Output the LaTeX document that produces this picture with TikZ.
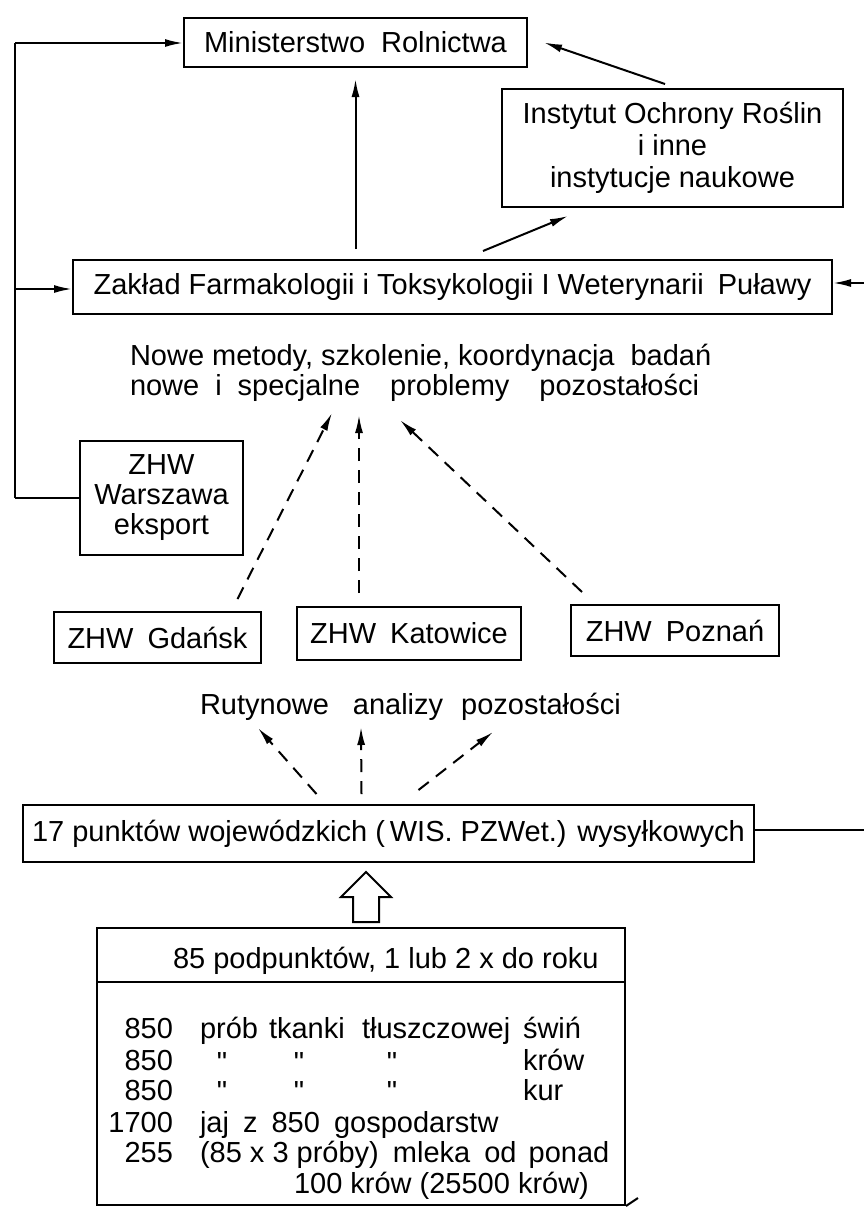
\documentclass[tikz,border=0pt]{standalone}
\usepackage{fontspec}
\setmainfont{Liberation Sans}
\newfontfamily\ditfont[Ligatures=TeXOff]{Liberation Sans}
\usetikzlibrary{arrows.meta,calc}
\begin{document}
\begin{tikzpicture}[x=1pt,y=-1pt,line width=2pt,
  every node/.style={font=\fontsize{29}{32}\selectfont},
  box/.style={draw,rectangle,inner sep=0pt,align=center},
  lbl/.style={inner sep=0pt,anchor=base west},
  num/.style={inner sep=0pt,anchor=base east},
  dit/.style={inner sep=0pt,anchor=base,font=\ditfont\fontsize{29}{32}\selectfont},
  arr/.style={-{Latex[length=18pt,width=8pt]}},
  darr/.style={arr,dash pattern=on 13pt off 9pt}]
\fill[white] (0,0) rectangle (864,1210);
\useasboundingbox (0,0) rectangle (864,1210);

% boxes
\node[box,minimum width=343pt,minimum height=49pt] (min) at (355.5,42.5) {Ministerstwo\hspace{16pt}Rolnictwa};
\node[box,minimum width=341pt,minimum height=118pt] (ior) at (672.5,148) {Instytut Ochrony Roślin\\i inne\\instytucje\hspace{8pt}naukowe};
\node[box,minimum width=759pt,minimum height=54pt] (zak) at (452.5,287) {Zakład Farmakologii i Toksykologii I Weterynarii\hspace{14pt}Puławy};
\node[lbl] (nowe1) at (129,365) {Nowe metody, szkolenie, koordynacja\hspace{16pt}badań};
\node[lbl] (nowe2) at (129,395) {nowe\hspace{16pt}i\hspace{16pt}specjalne\hspace{30pt}problemy\hspace{30pt}pozostałości};
\node[box,minimum width=163pt,minimum height=114pt,font=\fontsize{29}{30}\selectfont] (war) at (161.5,498) {ZHW\\Warszawa\\eksport};
\node[box,minimum width=207pt,minimum height=51pt] (gda) at (157.5,637.5) {ZHW\hspace{14pt}Gdańsk};
\node[box,minimum width=224pt,minimum height=53pt] (kat) at (409,633.5) {ZHW\hspace{14pt}Katowice};
\node[box,minimum width=208pt,minimum height=51pt] (poz) at (675,630.5) {ZHW\hspace{14pt}Poznań};
\node[lbl] (rut) at (199,714) {Rutynowe\hspace{24pt}analizy\hspace{18pt}pozostałości};
\node[box,minimum width=731pt,minimum height=57pt] (p17) at (388.5,833.5) {17 punktów wojewódzkich (\,WIS. PZWet.) wysyłkowych};

% bottom box
\node[draw,rectangle,minimum width=528pt,minimum height=277pt,inner sep=0pt] (bb) at (361,1066.5) {};
\draw ($(bb.north west)+(0,55)$) -- ($(bb.north east)+(0,55)$);
\draw (bb.south east) -- ++(12,-8);
\node[lbl] (hdr) at (172,968) {85 podpunktów, 1 lub 2 x do roku};

\node[num] (n1) at (174,1038) {850};
\node[num] (n2) at (174,1070) {850};
\node[num] (n3) at (174,1100) {850};
\node[num] (n4) at (174,1132) {1700};
\node[num] (n5) at (174,1162) {255};

\node[lbl] (r1a) at (199,1038) {prób};
\node[lbl] (r1b) at (268,1038) {tkanki};
\node[lbl] (r1c) at (361,1038) {tłuszczowej};
\node[lbl] (r1d) at (522,1038) {świń};
\node[dit] (d2a) at (222,1072) {"};
\node[dit] (d2b) at (299,1072) {"};
\node[dit] (d2c) at (392,1072) {"};
\node[lbl] (r2d) at (522,1070) {krów};
\node[dit] (d3a) at (222,1101) {"};
\node[dit] (d3b) at (299,1101) {"};
\node[dit] (d3c) at (392,1101) {"};
\node[lbl] (r3d) at (522,1100) {kur};
\node[lbl] (r4) at (199,1132) {jaj\hspace{6pt} z\hspace{6pt} 850\hspace{6pt} gospodarstw};
\node[lbl] (r5) at (199,1162) {(85 x 3 próby)\hspace{6pt} mleka\hspace{6pt} od\hspace{4pt} ponad};
\node[lbl] (r6) at (293,1193) {100 krów (25500 krów)};

% hollow arrow
\draw (353,922) -- (353,897) -- (341,897) -- (366,872) -- (391,897) -- (379,897) -- (379,922) -- cycle;

% coordinates
\coordinate (lt) at (15,43);
\coordinate (lz) at (15,289);
\coordinate (lw) at (15,498);
\coordinate (rz) at (864,283);
\coordinate (r17) at (864,830);
\coordinate (t1) at (332,413);
\coordinate (t2) at (359,415);
\coordinate (t3) at (400,420);
\coordinate (u1) at (258,728);
\coordinate (u2) at (361,727);
\coordinate (u3) at (493,732);

% solid connectors
\draw (lt) -- (lw);
\draw[arr] (lt) -- (lt -| min.west);
\draw[arr] (lz) -- (lz -| zak.west);
\draw (lw) -- (lw -| war.west);
\draw[arr] (rz) -- (rz -| zak.east);
\draw (p17.east |- r17) -- (r17);
\draw[arr] ($(min.south |- zak.north)+(0,-10)$) -- ($(min.south)+(0,11)$);
\draw[arr] ($(zak.north)+(30.5,-8)$) -- ($(ior.south)+(-104.5,8)$);
\draw[arr] ($(ior.north)+(-7.5,-4)$) -- ($(min.east)+(16,0)$);

% dashed connectors
\draw[darr] ($(gda.north)+(80,-12)$) -- (t1);
\draw[darr] ($(kat.north)+(-50,-13)$) -- (t2);
\draw[darr] ($(poz.north)+(-93,-12)$) -- (t3);
\draw[darr] ($(p17.north)+(-72,-10)$) -- (u1);
\draw[darr] ($(p17.north)+(-27,-10)$) -- (u2);
\draw[darr] ($(p17.north)+(30,-14)$) -- (u3);
\end{tikzpicture}
\end{document}
